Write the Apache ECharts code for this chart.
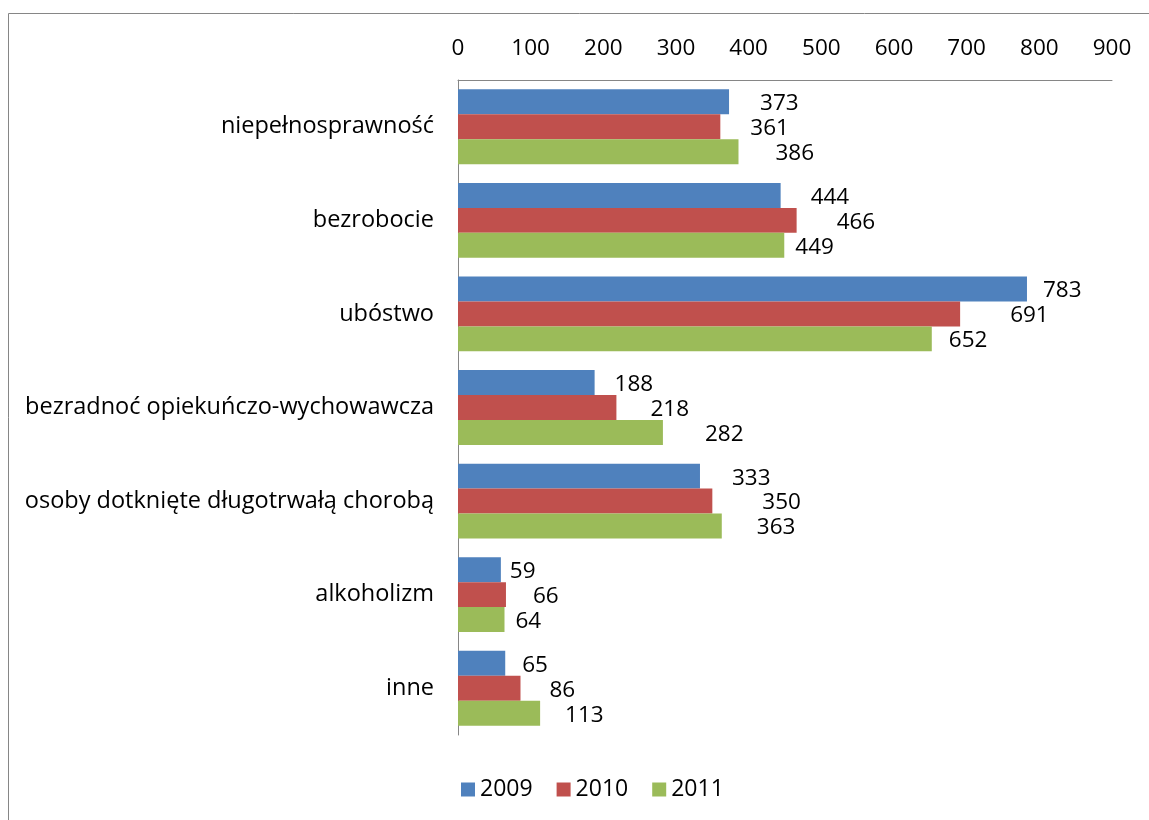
<!DOCTYPE html>
<html><head><meta charset="utf-8">
<script src="https://cdn.jsdelivr.net/npm/echarts@6/dist/echarts.min.js"></script>
<style>html,body{margin:0;padding:0;background:#fff}#c{width:1149px;height:820px}</style>
</head><body><div id="c"></div>
<script>
const categories = ['niepełnosprawność','bezrobocie','ubóstwo','bezradnoć opiekuńczo-wychowawcza','osoby dotknięte długotrwałą chorobą','alkoholizm','inne'];
const years = ['2009','2010','2011'];
const s2009 = [373,444,783,188,333,59,65];
const s2010 = [361,466,691,218,350,66,86];
const s2011 = [386,449,652,282,363,64,113];
const xTicks = [0,900,100];
// gap between bar end and its value label, as placed in the original
const gap2009 = [31,30,16,20,32,9,17];
const gap2010 = [30,40,50,34,50,27,29];
const gap2011 = [37,11,17,42,35,11,25];
const colors = ['#4F81BD','#C0504D','#9BBB59'];
const FONT = 'Open Sans';
const chart = echarts.init(document.getElementById('c'));
const mk = (name, data, gaps, i) => ({
  name, type:'bar', barGap:'0%', barCategoryGap:'20%',
  data: data.map((v,k) => ({value:v, label:{distance:gaps[k]}})),
  itemStyle:{color:colors[i]},
  label:{show:true, position:'right', color:'#000', fontSize:22.5, fontFamily:FONT, offset:[0,2]}
});
chart.setOption({
  animation:false,
  textStyle:{fontFamily:FONT},
  graphic:[{type:'rect', shape:{x:8.5,y:13.5,width:1200,height:900}, style:{fill:null, stroke:'#868686', lineWidth:1}}],
  grid:{left:458, top:80, right:37, bottom:85, containLabel:false},
  legend:{bottom:14, left:456, itemWidth:14, itemHeight:14, itemGap:24, icon:'rect',
    textStyle:{fontSize:23, color:'#000', fontFamily:FONT}, data:years},
  xAxis:{type:'value', position:'top', min:xTicks[0], max:xTicks[1], interval:xTicks[2],
    axisLine:{show:true, lineStyle:{color:'#868686'}}, axisTick:{show:false}, splitLine:{show:false},
    axisLabel:{fontSize:22.5, color:'#000', fontFamily:FONT, margin:20}},
  yAxis:{type:'category', inverse:true, data:categories,
    axisLine:{show:true, lineStyle:{color:'#868686'}}, axisTick:{show:false},
    axisLabel:{fontSize:23.5, color:'#000', fontFamily:FONT, margin:24}},
  series:[mk(years[0],s2009,gap2009,0), mk(years[1],s2010,gap2010,1), mk(years[2],s2011,gap2011,2)]
});
</script></body></html>
